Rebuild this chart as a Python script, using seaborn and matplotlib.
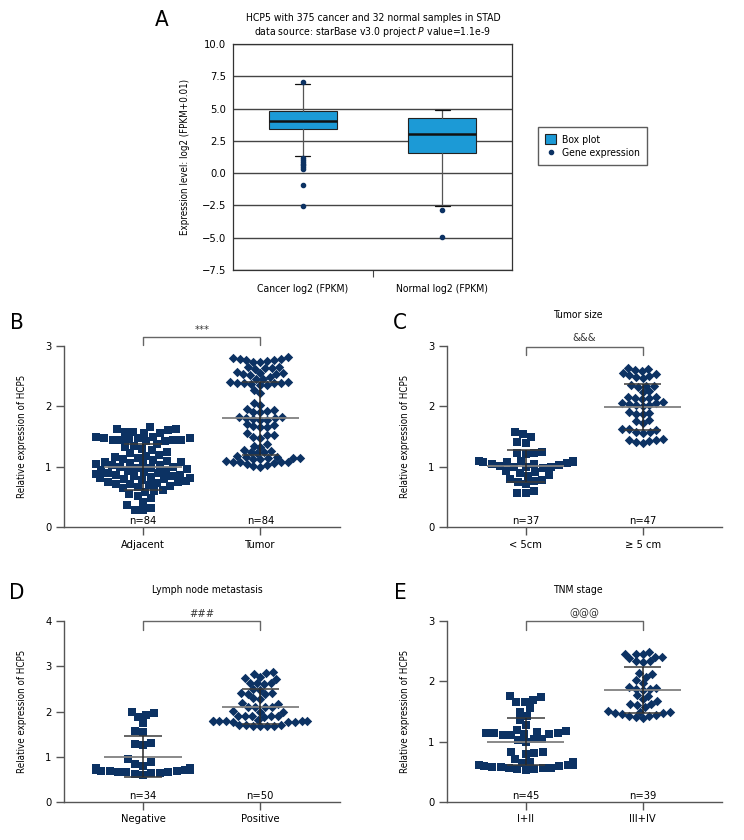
import numpy as np
import pandas as pd
import matplotlib
matplotlib.use("Agg")
import matplotlib.pyplot as plt
import seaborn as sns
from matplotlib.patches import Patch
from matplotlib.lines import Line2D
from matplotlib import font_manager as fm

sns.set_theme(style="ticks")
names = {f.name for f in fm.fontManager.ttflist}
FAM = ["Liberation Sans Narrow", "DejaVu Sans"] if "Liberation Sans Narrow" in names else ["DejaVu Sans"]
plt.rcParams["font.family"] = FAM
plt.rcParams["font.stretch"] = "condensed"
plt.rcParams["text.color"] = "black"
plt.rcParams["axes.labelcolor"] = "black"
plt.rcParams["xtick.labelcolor"] = "black"
plt.rcParams["ytick.labelcolor"] = "black"
plt.rcParams["mathtext.fontset"] = "custom"
plt.rcParams["mathtext.rm"] = FAM[0]
plt.rcParams["mathtext.it"] = FAM[0] + ":italic"

NAVY = "#0c3263"
BLUE = "#1c9ad6"
GRAY = "#555555"
FS = 7.5      # general text size
FSL = 7.0     # axis label size

# ---------------- Panel A data ----------------
a_groups = ["Cancer log2 (FPKM)", "Normal log2 (FPKM)"]
a_q1 = [3.40, 1.55]
a_median = [4.05, 3.05]
a_q3 = [4.83, 4.25]
a_whislo = [1.29, -2.58]
a_whishi = [6.87, 4.92]
a_fliers = [[7.03, 1.16, 1.02, 0.88, 0.74, 0.60, 0.46, 0.31, -0.93, -2.58],
            [-2.86, -4.92]]
a_yticks = [-7.5, -5.0, -2.5, 0.0, 2.5, 5.0, 7.5, 10.0]

# ---------------- Panel B data ----------------
b_cats = ["Adjacent", "Tumor"]
b_adjacent = [1.58, 1.62, 1.65, 1.56, 1.60, 1.63, 1.57, 1.55,
              1.47, 1.45, 1.48, 1.44, 1.46, 1.43, 1.49, 1.42, 1.47, 1.45, 1.50, 1.44,
              1.38, 1.35, 1.32, 1.30,
              1.27, 1.25, 1.22, 1.20,
              1.18, 1.15, 1.13, 1.16, 1.11, 1.10,
              1.08, 1.07, 1.05, 1.04, 1.06, 1.03, 1.02,
              1.00, 0.98, 0.97, 0.99, 0.96, 0.95,
              0.93, 0.92, 0.90, 0.88, 0.91, 0.87, 0.89, 0.86,
              0.84, 0.83, 0.81, 0.80, 0.82, 0.79, 0.78, 0.84,
              0.76, 0.74, 0.72, 0.70, 0.75, 0.73, 0.71, 0.68,
              0.66, 0.64, 0.62, 0.60, 0.58,
              0.55, 0.52, 0.48,
              0.42, 0.36,
              0.32, 0.29, 0.28]
b_tumor = [2.80, 2.79, 2.78, 2.81,
           2.76, 2.74, 2.75, 2.73, 2.77,
           2.66, 2.64, 2.63, 2.65, 2.62,
           2.57, 2.55, 2.53, 2.56, 2.52, 2.54,
           2.48, 2.46, 2.45,
           2.40, 2.39, 2.38, 2.37, 2.41, 2.36, 2.39, 2.38, 2.35,
           2.27, 2.22,
           2.06, 2.02,
           1.95, 1.93, 1.91, 1.90, 1.94,
           1.82, 1.80, 1.78, 1.79, 1.81, 1.77, 1.83,
           1.70, 1.67, 1.66, 1.69, 1.65,
           1.55, 1.52, 1.50, 1.53, 1.48,
           1.38, 1.35, 1.33,
           1.27, 1.25, 1.24, 1.26, 1.22,
           1.17, 1.16, 1.15, 1.14, 1.13, 1.16, 1.12, 1.15,
           1.09, 1.08, 1.07, 1.06, 1.08, 1.05, 1.07,
           1.03, 1.01, 1.00]
b_mean = [1.00, 1.80]
b_sd = [0.38, 0.60]
b_n = ["n=84", "n=84"]

# ---------------- Panel C data ----------------
c_cats = ["< 5cm", "\u2265 5 cm"]
c_small = [1.54, 1.57, 1.50, 1.41, 1.40, 1.21, 1.22, 1.25, 1.23,
           1.09, 1.10, 1.07, 1.05, 1.08, 1.06, 1.10, 1.04, 1.08,
           1.00, 0.98, 1.01, 1.02, 0.99, 1.00,
           0.92, 0.90, 0.87, 0.91, 0.85,
           0.76, 0.78, 0.72, 0.80, 0.75,
           0.60, 0.56, 0.57]
c_large = [2.60, 2.62, 2.58, 2.63, 2.56, 2.52, 2.50, 2.47, 2.53, 2.48,
           2.33, 2.34, 2.32, 2.35, 2.24, 2.25,
           2.15, 2.13, 2.16, 2.14, 2.12,
           2.06, 2.02, 2.04, 2.01, 2.03, 2.05, 2.08,
           1.90, 1.88, 1.89, 1.87,
           1.78, 1.75, 1.73,
           1.62, 1.58, 1.60, 1.56, 1.57, 1.63,
           1.46, 1.45, 1.44,
           1.41, 1.39, 1.42]
c_mean = [1.01, 1.99]
c_sd = [0.26, 0.38]
c_n = ["n=37", "n=47"]

# ---------------- Panel D data ----------------
d_cats = ["Negative", "Positive"]
d_neg = [2.00, 1.97, 1.92, 1.88, 1.74, 1.58, 1.55, 1.30, 1.28, 1.25, 0.96, 0.88, 0.85, 0.80,
         0.75, 0.72, 0.70, 0.68, 0.74, 0.71, 0.69, 0.66, 0.73, 0.67,
         0.65, 0.70, 0.72, 0.68, 0.64, 0.76, 0.62, 0.60, 0.71, 0.66]
d_pos = [2.87, 2.84, 2.83, 2.76, 2.74, 2.72, 2.63, 2.62, 2.64, 2.61,
         2.50, 2.48, 2.40, 2.39, 2.41, 2.38, 2.29, 2.28, 2.18, 2.17,
         2.10, 2.11, 2.09, 2.10, 2.00, 1.99, 2.01,
         1.90, 1.89, 1.91, 1.88, 1.90, 1.89,
         1.79, 1.78, 1.80, 1.77, 1.79, 1.78, 1.81, 1.76, 1.78, 1.77,
         1.70, 1.69, 1.71, 1.68, 1.70, 1.69, 1.67]
d_mean = [1.00, 2.11]
d_sd = [0.45, 0.38]
d_n = ["n=34", "n=50"]

# ---------------- Panel E data ----------------
e_cats = ["I+II", "III+IV"]
e_early = [1.74, 1.75, 1.66, 1.69, 1.65, 1.55, 1.50, 1.43, 1.36, 1.27,
           1.20, 1.14, 1.11, 1.16, 1.15, 1.18, 1.12, 1.12, 1.11, 1.14,
           1.05, 1.03, 1.04, 0.99,
           0.83, 0.83, 0.80, 0.81,
           0.71, 0.66, 0.65, 0.67,
           0.58, 0.61, 0.61, 0.62, 0.60, 0.56, 0.57, 0.59, 0.58, 0.57,
           0.53, 0.54, 0.55]
e_late = [2.41, 2.46, 2.45, 2.49, 2.45, 2.38, 2.40,
          2.33, 2.33, 2.32,
          2.13, 2.12, 2.08,
          2.03, 1.98,
          1.90, 1.86, 1.87, 1.89, 1.88,
          1.77, 1.76,
          1.70, 1.67,
          1.62, 1.60, 1.63, 1.58,
          1.49, 1.47, 1.48, 1.50, 1.46, 1.51,
          1.42, 1.41, 1.40, 1.43, 1.44]
e_mean = [1.00, 1.86]
e_sd = [0.39, 0.38]
e_n = ["n=45", "n=39"]

W, H = 744, 840
fig = plt.figure(figsize=(W / 100, H / 100), dpi=100)


def fx(px):
    return px / W


def fy(py):
    return 1 - py / H


# ================= Panel A =================
axA = fig.add_axes([fx(233), fy(270), (512 - 233) / W, (270 - 44) / H])
stats = []
for i in range(2):
    stats.append(dict(med=a_median[i], q1=a_q1[i], q3=a_q3[i],
                      whislo=a_whislo[i], whishi=a_whishi[i],
                      fliers=a_fliers[i], label=a_groups[i]))
axA.bxp(stats, positions=[0, 1], widths=0.49, patch_artist=True,
        boxprops=dict(facecolor=BLUE, edgecolor="#222222", linewidth=0.8),
        medianprops=dict(color="#111111", linewidth=1.8),
        whiskerprops=dict(color="#555555", linewidth=0.9),
        capprops=dict(color="#111111", linewidth=0.9),
        flierprops=dict(marker="o", markerfacecolor=NAVY, markeredgecolor=NAVY,
                        markersize=3),
        capwidths=0.11)
axA.set_xlim(-0.5, 1.5)
axA.set_ylim(-7.5, 10.0)
axA.set_yticks(a_yticks)
axA.set_yticklabels([f"{v:.1f}".replace("-", "\u2212") for v in a_yticks], fontsize=FS + 0.5)
axA.yaxis.grid(True, color="#444444", linewidth=1.0)
axA.set_axisbelow(True)
axA.set_xticks([0, 1])
axA.set_xticklabels(a_groups, fontsize=FS)
axA.set_xticks([0.5], minor=True)
axA.tick_params(axis="x", which="major", length=0, pad=10)
axA.tick_params(axis="x", which="minor", length=5, width=0.8, color="#444444")
axA.tick_params(axis="y", length=0, pad=5)
for s in axA.spines.values():
    s.set_color("#333333")
    s.set_linewidth(0.9)
axA.set_xlabel("")
axA.set_ylabel("Expression level: log2 (FPKM+0.01)", fontsize=FSL)
axA.yaxis.set_label_coords((190 - 233) / 279, 0.5)
fig.text(fx(373), fy(18), "HCP5 with 375 cancer and 32 normal samples in STAD",
         ha="center", va="center", fontsize=FS)
fig.text(fx(373), fy(32), r"data source: starBase v3.0 project $\mathit{P}$ value=1.1e-9",
         ha="center", va="center", fontsize=FS)
fig.legend(handles=[Patch(facecolor=BLUE, edgecolor="#222222", linewidth=0.8),
                    Line2D([], [], marker="o", linestyle="none", color=NAVY, markersize=3)],
           labels=["Box plot", "Gene expression"],
           loc="upper left", bbox_to_anchor=(fx(538), fy(127)), borderaxespad=0,
           frameon=True, fancybox=False, edgecolor="#333333", fontsize=FS,
           handlelength=1.0, handleheight=1.0, handletextpad=0.6,
           borderpad=0.7, labelspacing=0.3)
fig.text(fx(162), fy(20), "A", ha="center", va="center", fontsize=16)


# ================= Panels B-E =================
def scatter_panel(ax, cats, groups, means, sds, ntext, ymax, yticks,
                  sig, sig_top, sig_end, sig_text_y, title=None, title_x=0.5):
    for i, (vals, mk, sz) in enumerate(zip(groups, ["s", "D"], [5.8, 4.8])):
        df = pd.DataFrame({"group": cats[i], "value": vals})
        sns.swarmplot(data=df, x="group", y="value", order=cats, marker=mk,
                      color=NAVY, size=sz, linewidth=0, ax=ax, zorder=2,
                      warn_thresh=1.0)
    for i in range(2):
        ax.hlines(means[i], i - 0.33, i + 0.33, color="#808080", lw=1.3, zorder=4)
        ax.hlines([means[i] - sds[i], means[i] + sds[i]], i - 0.16, i + 0.16,
                  color="#3a3a3a", lw=1.1, zorder=4)
        ax.vlines(i, means[i] - sds[i], means[i] + sds[i], color="#2a2a2a",
                  lw=1.1, zorder=4)
        ax.text(i, 0.004, ntext[i], transform=ax.get_xaxis_transform(),
                ha="center", va="bottom", fontsize=FS + 0.5)
    ax.set_xlim(-0.675, 1.68)
    ax.set_ylim(0, ymax)
    ax.set_yticks(yticks)
    ax.set_yticklabels([str(t) for t in yticks], fontsize=FS + 0.5)
    ax.set_xticks([0, 1])
    ax.set_xticklabels(cats, fontsize=FS + 0.5)
    ax.set_xlabel("")
    ax.set_ylabel("Relative expression of HCP5", fontsize=FSL)
    ax.yaxis.set_label_coords(-0.134, 0.5)
    sns.despine(ax=ax)
    for s in ["left", "bottom"]:
        ax.spines[s].set_color(GRAY)
        ax.spines[s].set_linewidth(1.0)
    ax.tick_params(axis="both", length=6, width=1.0, color=GRAY, pad=3)
    ax.plot([0, 0, 1, 1], [sig_end, sig_top, sig_top, sig_end], color="#666666",
            lw=1.0, clip_on=False)
    ax.text(0.5, sig_text_y, sig, ha="center", va="center", fontsize=FS + 0.5,
            color="#333333")
    if title:
        ax.text(title_x, 1 + 31 / 181, title, transform=ax.transAxes,
                ha="center", va="center", fontsize=FS)


axB = fig.add_axes([fx(64), fy(527), 276 / W, 181 / H])
scatter_panel(axB, b_cats, [b_adjacent, b_tumor], b_mean, b_sd, b_n, 3, [0, 1, 2, 3],
              "***", 3.15, 3.02, 3.27)
fig.text(fx(17), fy(323), "B", ha="center", va="center", fontsize=16)

axC = fig.add_axes([fx(447), fy(527), 275 / W, 181 / H])
scatter_panel(axC, c_cats, [c_small, c_large], c_mean, c_sd, c_n, 3, [0, 1, 2, 3],
              "&&&", 2.98, 2.85, 3.14, title="Tumor size", title_x=0.476)
fig.text(fx(400), fy(323), "C", ha="center", va="center", fontsize=16)

axD = fig.add_axes([fx(64), fy(802), 276 / W, 181 / H])
scatter_panel(axD, d_cats, [d_neg, d_pos], d_mean, d_sd, d_n, 4, [0, 1, 2, 3, 4],
              "###", 4.0, 3.8, 4.15, title="Lymph node metastasis", title_x=0.518)
fig.text(fx(17), fy(593), "D", ha="center", va="center", fontsize=16)

axE = fig.add_axes([fx(447), fy(802), 275 / W, 181 / H])
scatter_panel(axE, e_cats, [e_early, e_late], e_mean, e_sd, e_n, 3, [0, 1, 2, 3],
              "@@@", 3.0, 2.85, 3.13, title="TNM stage", title_x=0.476)
fig.text(fx(400), fy(593), "E", ha="center", va="center", fontsize=16)

fig.savefig("out.png", dpi=100)
